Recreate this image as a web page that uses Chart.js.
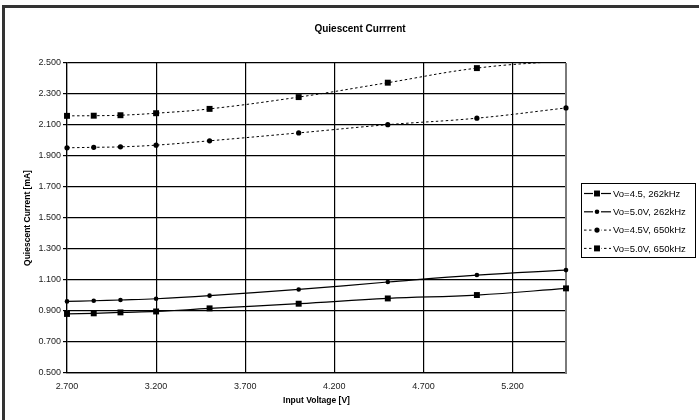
<!DOCTYPE html>
<html>
<head>
<meta charset="utf-8">
<script src="https://cdn.jsdelivr.net/npm/chart.js@4/dist/chart.umd.min.js"></script>
<style>
  html, body { margin: 0; padding: 0; background: #fff; }
  #wrap { position: relative; width: 699px; height: 420px; overflow: hidden; }
  #frame { position: absolute; left: 2px; top: 5px; width: 700px; height: 420px;
           border-left: 3px solid #333; border-top: 3px solid #333; }
  #grafico { position: absolute; left: 0; top: 0; }
</style>
</head>
<body>
<div id="wrap">
  <div id="frame"></div>
  <canvas id="grafico" width="699" height="420"></canvas>
</div>
<script>
// valores
const tensaoEntrada = [2.7, 2.85, 3.0, 3.2, 3.5, 4.0, 4.5, 5.0, 5.5];
const vo45_262 = [0.881, 0.885, 0.891, 0.897, 0.917, 0.947, 0.981, 1.003, 1.046];
const vo50_262 = [0.962, 0.966, 0.971, 0.979, 0.999, 1.039, 1.087, 1.132, 1.164];
const vo45_650 = [1.953, 1.956, 1.959, 1.970, 1.998, 2.049, 2.102, 2.144, 2.210];
const vo50_650 = [2.159, 2.160, 2.163, 2.176, 2.204, 2.280, 2.373, 2.467, 2.515];
const nomesSeries = ['Vo=4.5, 262kHz', 'Vo=5.0V, 262kHz', 'Vo=4.5V, 650kHz', 'Vo=5.0V, 650kHz'];
const ticksX = [2.7, 3.2, 3.7, 4.2, 4.7, 5.2];
const ticksY = [0.5, 0.7, 0.9, 1.1, 1.3, 1.5, 1.7, 1.9, 2.1, 2.3, 2.5];
const Y_MAX = 2.5;

const FONTE = "'Liberation Sans', Arial, sans-serif";

function pontos(valores) {
    return tensaoEntrada.map((x, i) => ({ x: x, y: valores[i] }));
}

function serie(label, valores, estilo, raio, pontilhado) {
    return {
        label: label,
        data: pontos(valores),
        borderColor: '#000',
        backgroundColor: '#000',
        borderWidth: pontilhado ? 1 : 1.2,
        borderDash: pontilhado ? [2.5, 2.5] : [],
        pointStyle: estilo,
        raioMarcador: raio,
        // como no Excel: ponto acima do eixo não mostra marcador
        pointRadius: c => (c.raw && c.raw.y > Y_MAX) ? 0 : raio,
        pointBorderWidth: 0,
        pointBackgroundColor: '#000',
        tension: 0.4,
        clip: { left: 6, right: 6, top: 0, bottom: 6 }
    };
}

// legenda com moldura, linha e marcador
const legendaCaixa = {
    id: 'legendaCaixa',
    afterDraw(chart) {
        const ctx = chart.ctx;
        const area = chart.chartArea;
        const left = area.right + 15;
        const top = (area.top + area.bottom) / 2 - 35;
        const w = 114, h = 74, passo = 18.3;
        ctx.save();
        ctx.strokeStyle = '#000';
        ctx.lineWidth = 1;
        ctx.strokeRect(left + 0.5, top + 0.5, w, h);
        chart.data.datasets.forEach((ds, i) => {
            const y = top + 10.5 + i * passo;
            ctx.beginPath();
            ctx.setLineDash(ds.borderDash);
            ctx.lineWidth = ds.borderWidth;
            ctx.moveTo(left + 3, y);
            ctx.lineTo(left + 30, y);
            ctx.stroke();
            ctx.setLineDash([]);
            ctx.fillStyle = '#fff';
            ctx.fillRect(left + 12, y - 3.5, 8, 7);
            ctx.fillStyle = '#000';
            const cx = left + 16;
            const r = ds.raioMarcador;
            if (ds.pointStyle === 'rect') {
                const s = r * Math.SQRT1_2;
                ctx.fillRect(cx - s, y - s, 2 * s, 2 * s);
            } else {
                ctx.beginPath();
                ctx.arc(cx, y, r, 0, Math.PI * 2);
                ctx.fill();
            }
            ctx.font = '9.5px ' + FONTE;
            ctx.textBaseline = 'middle';
            ctx.fillText(ds.label, left + 32, y + 0.5);
        });
        ctx.restore();
    }
};

// borda direita cinza da área do gráfico
const bordaArea = {
    id: 'bordaArea',
    beforeDatasetsDraw(chart) {
        const ctx = chart.ctx;
        const a = chart.chartArea;
        ctx.save();
        ctx.strokeStyle = '#7a7a7a';
        ctx.lineWidth = 2;
        ctx.beginPath();
        ctx.moveTo(a.right, a.top);
        ctx.lineTo(a.right, a.bottom + 1);
        ctx.stroke();
        ctx.restore();
    }
};

new Chart(document.getElementById('grafico'), {
    type: 'line',
    data: {
        datasets: [
            serie(nomesSeries[0], vo45_262, 'rect', 4.2, false),
            serie(nomesSeries[1], vo50_262, 'circle', 2.3, false),
            serie(nomesSeries[2], vo45_650, 'circle', 2.6, true),
            serie(nomesSeries[3], vo50_650, 'rect', 4.2, true)
        ]
    },
    options: {
        responsive: false,
        animation: false,
        events: [],
        layout: { padding: { left: 21, right: 0, top: 0, bottom: 0 } },
        plugins: {
            legend: { display: false },
            tooltip: { enabled: false },
            title: {
                display: true,
                text: 'Quiescent Currrent',
                color: '#000',
                font: { family: FONTE, size: 10, weight: 'bold' },
                padding: { top: 23, bottom: 28 }
            }
        },
        scales: {
            x: {
                type: 'linear',
                min: 2.7,
                max: 5.5,
                afterBuildTicks: s => { s.ticks = ticksX.map(v => ({ value: v })); },
                afterFit: s => { s.height = 47; },
                ticks: {
                    callback: v => Number(v).toFixed(3),
                    color: '#222',
                    font: { family: FONTE, size: 9 },
                    padding: 8,
                    autoSkip: false,
                    maxRotation: 0
                },
                grid: { color: '#000', lineWidth: 1.2, drawTicks: false },
                border: { color: '#000', width: 1.2 },
                title: {
                    display: true,
                    text: 'Input Voltage [V]',
                    color: '#000',
                    font: { family: FONTE, size: 8.5, weight: 'bold' },
                    padding: { top: 0, bottom: 14 }
                }
            },
            y: {
                type: 'linear',
                min: 0.5,
                max: Y_MAX,
                afterBuildTicks: s => { s.ticks = ticksY.map(v => ({ value: v })); },
                afterFit: s => { s.width = 46; },
                ticks: {
                    callback: v => Number(v).toFixed(3),
                    color: '#222',
                    font: { family: FONTE, size: 9 },
                    padding: 2
                },
                grid: { color: '#000', lineWidth: 1.2, tickLength: 4 },
                border: { color: '#000', width: 1.2 },
                title: {
                    display: true,
                    text: 'Quiescent Current [mA]',
                    color: '#000',
                    font: { family: FONTE, size: 8.5, weight: 'bold' },
                    padding: { top: 2, bottom: 0 }
                }
            },
            espacoLegenda: {
                type: 'linear',
                position: 'right',
                display: true,
                afterFit: s => { s.width = 133; },
                grid: { display: false },
                border: { display: false },
                ticks: { display: false }
            }
        }
    },
    plugins: [bordaArea, legendaCaixa]
});
</script>
</body>
</html>
